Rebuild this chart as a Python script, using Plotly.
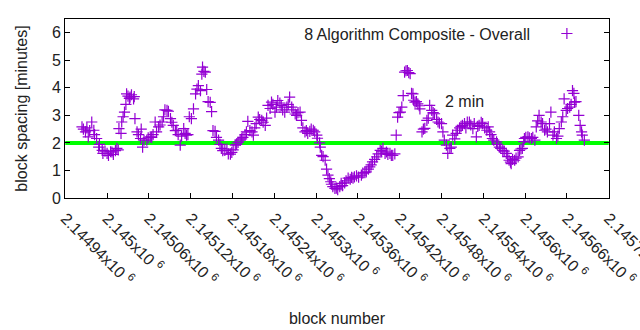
import plotly.graph_objects as go

blocks = [2144964,2144966,2144969,2144971,2144973,2144975,2144978,2144981,2144982,2144985,2144988,2144989,
 2144993,2144994,2144997,2145000,2145002,2145005,2145007,2145009,2145012,2145014,2145016,2145017,2145020,2145021,
 2145023,2145025,2145027,2145028,2145030,2145032,2145033,2145035,2145038,2145039,2145040,2145043,2145045,2145048,
 2145049,2145051,2145053,2145057,2145059,2145062,2145064,2145066,2145069,2145071,2145074,2145076,2145079,2145081,
 2145083,2145086,2145088,2145091,2145093,2145095,2145098,2145100,2145102,2145105,2145107,2145110,2145112,2145114,
 2145116,2145118,2145121,2145124,2145127,2145129,2145131,2145134,2145136,2145137,2145139,2145141,2145143,2145145,
 2145148,2145150,2145152,2145155,2145157,2145160,2145162,2145164,2145166,2145169,2145172,2145174,2145177,2145179,
 2145181,2145184,2145186,2145188,2145191,2145193,2145195,2145198,2145200,2145202,2145205,2145208,2145210,2145212,
 2145214,2145217,2145219,2145222,2145224,2145227,2145229,2145231,2145234,2145236,2145238,2145241,2145243,2145245,
 2145248,2145250,2145252,2145255,2145258,2145260,2145262,2145265,2145267,2145270,2145272,2145274,2145277,2145279,
 2145281,2145284,2145286,2145288,2145291,2145293,2145296,2145298,2145301,2145302,2145305,2145306,2145308,2145310,
 2145313,2145315,2145317,2145319,2145321,2145322,2145324,2145327,2145329,2145331,2145334,2145336,2145338,2145341,
 2145343,2145346,2145349,2145351,2145353,2145355,2145358,2145361,2145365,2145367,2145370,2145372,2145375,2145377,
 2145379,2145381,2145384,2145387,2145389,2145392,2145394,2145396,2145399,2145401,2145403,2145406,2145408,2145410,
 2145413,2145415,2145417,2145419,2145421,2145423,2145425,2145427,2145429,2145431,2145433,2145435,2145437,2145439,
 2145440,2145442,2145444,2145446,2145448,2145449,2145452,2145454,2145456,2145459,2145461,2145463,2145466,2145468,
 2145470,2145473,2145475,2145477,2145480,2145482,2145484,2145487,2145489,2145492,2145494,2145496,2145499,2145501,
 2145503,2145506,2145508,2145510,2145513,2145515,2145517,2145520,2145522,2145525,2145527,2145530,2145532,2145534,
 2145537,2145539,2145542,2145545,2145547,2145549,2145551,2145553,2145555,2145559,2145560,2145563,2145565,2145568,
 2145570,2145573,2145575,2145577,2145579,2145580,2145582,2145585,2145587,2145590,2145592,2145594,2145596,2145598,
 2145599,2145601,2145604,2145606,2145609,2145611,2145614,2145616,2145618,2145620,2145623,2145625,2145628,2145630,
 2145632,2145635,2145637,2145640,2145642,2145645,2145647,2145649,2145652,2145654,2145656,2145659,2145661,2145664,
 2145666,2145668,2145670,2145671,2145673,2145677,2145679,2145681,2145682,2145685]

spacing = [2.58,2.50,2.40,2.55,2.22,2.45,2.76,2.46,2.30,2.16,1.85,1.95,
 1.73,1.62,1.70,1.62,1.55,1.68,1.67,1.58,1.72,1.80,1.75,2.52,2.35,2.76,
 2.95,3.12,3.40,3.78,3.70,3.62,3.66,3.75,3.60,3.68,2.88,2.40,2.30,2.16,
 2.50,1.85,2.10,2.10,2.18,2.22,2.20,2.30,2.76,2.40,2.58,2.65,2.76,2.95,
 3.20,3.18,3.15,2.88,2.75,2.64,2.45,2.46,2.30,1.92,2.25,2.52,2.35,2.28,
 2.30,2.95,2.88,3.24,3.78,3.95,4.08,3.90,4.50,4.75,4.60,4.57,3.94,3.50,
 3.47,3.14,2.45,2.42,2.20,2.10,1.95,1.80,1.72,1.73,1.78,1.60,1.59,1.66,
 1.75,1.92,1.95,2.02,2.10,2.15,2.20,2.30,2.40,2.78,2.45,2.40,2.28,2.55,
 2.70,2.94,2.85,2.82,2.75,2.64,2.90,3.36,3.25,3.48,3.40,3.12,3.30,3.54,
 3.45,3.36,3.20,3.12,3.30,3.40,3.66,3.30,3.20,3.05,3.00,3.10,3.12,2.82,
 2.55,2.40,2.45,2.35,2.42,2.50,2.46,2.40,2.28,2.17,2.00,1.85,1.55,1.50,
 1.37,1.05,0.83,0.70,0.59,0.50,0.41,0.35,0.36,0.30,0.41,0.53,0.45,0.55,
 0.62,0.72,0.68,0.75,0.72,0.77,0.80,0.76,0.83,0.90,0.92,0.95,1.05,1.13,
 1.20,1.31,1.40,1.49,1.60,1.73,1.70,1.80,1.62,1.67,1.58,1.62,1.55,1.55,
 1.60,2.28,2.94,3.10,3.12,3.30,3.72,4.57,4.62,4.63,4.55,4.52,3.80,3.78,
 3.55,3.48,3.50,3.42,3.35,3.24,2.40,2.50,2.53,2.82,2.90,3.36,3.18,3.10,
 3.06,2.85,2.76,2.72,2.70,2.40,2.10,1.92,1.62,1.80,1.85,2.28,2.15,2.35,
 2.46,2.55,2.60,2.64,2.70,2.55,2.76,2.76,2.65,2.52,2.70,2.22,2.60,2.64,
 2.75,2.70,2.55,2.46,2.58,2.40,2.30,2.16,2.10,2.04,1.95,1.85,1.80,1.73,
 1.70,1.62,1.50,1.37,1.30,1.25,1.40,1.37,1.45,1.49,1.73,1.78,1.80,2.05,
 2.16,2.20,2.22,2.18,2.16,2.20,2.10,2.58,2.80,3.00,2.76,2.70,2.46,2.50,
 2.40,2.70,3.12,2.28,2.40,2.16,2.25,2.52,2.76,2.95,3.60,3.18,3.25,3.30,
 3.40,3.90,3.80,3.48,3.50,3.00,2.64,2.40,2.28,2.10]

n = min(len(blocks), len(spacing))
blocks = blocks[:n]
spacing = spacing[:n]

x_range = [2144939.6, 2145720.4]
target_line_x = [2144940, 2145720]
target_line_y = [2, 2]
tick_vals = [2144940, 2145000, 2145060, 2145120, 2145180, 2145240, 2145300,
             2145360, 2145420, 2145480, 2145540, 2145600, 2145660, 2145720]
tick_text = ["2.14494x10 <sup>6</sup>", "2.145x10 <sup>6</sup>", "2.14506x10 <sup>6</sup>",
             "2.14512x10 <sup>6</sup>", "2.14518x10 <sup>6</sup>", "2.14524x10 <sup>6</sup>",
             "2.1453x10 <sup>6</sup>", "2.14536x10 <sup>6</sup>", "2.14542x10 <sup>6</sup>",
             "2.14548x10 <sup>6</sup>", "2.14554x10 <sup>6</sup>", "2.1456x10 <sup>6</sup>",
             "2.14566x10 <sup>6</sup>", "2.14572x10 <sup>6</sup>"]
label_2min = {"x": 2145513, "y": 3.5, "text": "2 min"}
legend_label = "8 Algorithm Composite - Overall"

FONT = "Liberation Sans, Arial, sans-serif"
PURPLE = "#9400d3"
TXT = "#222"

fig = go.Figure()
fig.add_trace(go.Scatter(
    x=target_line_x, y=target_line_y, mode="lines",
    line=dict(color="#00ff00", width=4), showlegend=False, hoverinfo="skip"))
fig.add_trace(go.Scatter(
    x=blocks, y=spacing, mode="markers", name="",
    marker=dict(symbol="cross-thin", size=8, color=PURPLE,
                line=dict(width=1.2, color=PURPLE)),
    showlegend=True))

fig.add_annotation(x=label_2min["x"], y=label_2min["y"], text=label_2min["text"],
                   showarrow=False, font=dict(family=FONT, size=16, color=TXT))

fig.update_layout(
    width=640, height=330,
    margin=dict(l=65, r=31, t=19, b=132),
    paper_bgcolor="white", plot_bgcolor="white",
    font=dict(family=FONT, size=16, color=TXT),
    legend=dict(x=0.969, y=1.0, xanchor="right", yanchor="top",
                bgcolor="rgba(0,0,0,0)",
                title=dict(text=legend_label + "\u00a0\u00a0", side="left",
                           font=dict(family=FONT, size=16, color=TXT)),
                font=dict(size=1), itemwidth=30),
)
fig.update_xaxes(range=x_range, tickvals=tick_vals, ticktext=tick_text,
                 tickangle=45, ticks="inside", ticklen=5, tickcolor="black",
                 ticklabelstandoff=4, automargin=False, ticklabeloverflow="allow",
                 showline=True, linecolor="black", linewidth=1, mirror=True,
                 showgrid=False, zeroline=False,
                 title=dict(text="block number", standoff=25,
                            font=dict(family=FONT, size=16)),
                 tickfont=dict(family=FONT, size=16, color=TXT))
fig.update_yaxes(range=[0, 6.5], tickvals=[0, 1, 2, 3, 4, 5, 6],
                 ticks="inside", ticklen=5, tickcolor="black", automargin=False,
                 showline=True, linecolor="black", linewidth=1, mirror="ticks",
                 showgrid=False, zeroline=False,
                 title=dict(text="block spacing [minutes]", standoff=20,
                            font=dict(family=FONT, size=16)),
                 tickfont=dict(family=FONT, size=16, color=TXT))

fig.write_html("out.html")
